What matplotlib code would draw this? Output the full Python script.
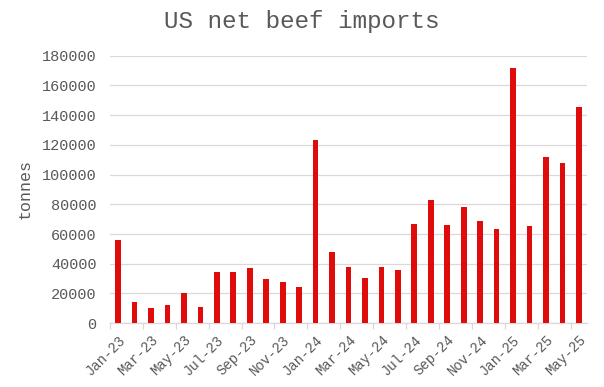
import matplotlib
matplotlib.use("Agg")
import matplotlib.pyplot as plt
from matplotlib.ticker import FixedLocator

months = ["Jan-23","Feb-23","Mar-23","Apr-23","May-23","Jun-23","Jul-23","Aug-23","Sep-23","Oct-23","Nov-23","Dec-23",
          "Jan-24","Feb-24","Mar-24","Apr-24","May-24","Jun-24","Jul-24","Aug-24","Sep-24","Oct-24","Nov-24","Dec-24",
          "Jan-25","Feb-25","Mar-25","Apr-25","May-25"]
imports = [56000, 14500, 10500, 12500, 20000, 11000, 34500, 34500, 37000, 29500, 28000, 24500,
           123000, 48000, 38000, 30500, 38000, 35500, 66500, 83000, 66000, 78500, 69000, 63500,
           171500, 65500, 111500, 107500, 145500]
yticks = list(range(0, 180001, 20000))

FONT = "Liberation Mono"
GRAY = "#595959"

fig = plt.figure(figsize=(6.04, 3.87), dpi=100)
ax = fig.add_axes([0.182, 0.165, 0.79, 0.691])
x = list(range(len(months)))
ax.bar(x, imports, width=0.35, color="#e00b0b", zorder=3)
ax.set_xlim(-0.5, len(months) - 0.5)
ax.set_ylim(0, 180000)
ax.set_yticks(yticks)
ax.set_yticklabels([str(v) for v in yticks], fontfamily=FONT, fontsize=11, color=GRAY)
ax.yaxis.grid(True, color="#d9d9d9", linewidth=0.9, zorder=0)
ax.tick_params(axis="y", length=0, pad=9.5)

ax.set_xticks(x[::2])
ax.set_xticklabels(months[::2], rotation=45, ha="right", rotation_mode="anchor",
                   fontfamily=FONT, fontsize=10, color=GRAY)
ax.tick_params(axis="x", which="major", length=0, pad=7)
ax.xaxis.set_minor_locator(FixedLocator([i - 0.5 for i in range(0, len(months) + 1, 2)]))
ax.tick_params(axis="x", which="minor", length=4, color="#d9d9d9", width=0.9)

for s in ["top", "right", "left"]:
    ax.spines[s].set_visible(False)
ax.spines["bottom"].set_color("#d9d9d9")
ax.spines["bottom"].set_linewidth(0.9)

ax.set_ylabel("tonnes", fontfamily=FONT, fontsize=12, color=GRAY, labelpad=7)
fig.suptitle("US net beef imports", fontfamily=FONT, fontsize=17.5, color=GRAY, x=0.5, y=0.975)

fig.savefig("out.png", dpi=100)
